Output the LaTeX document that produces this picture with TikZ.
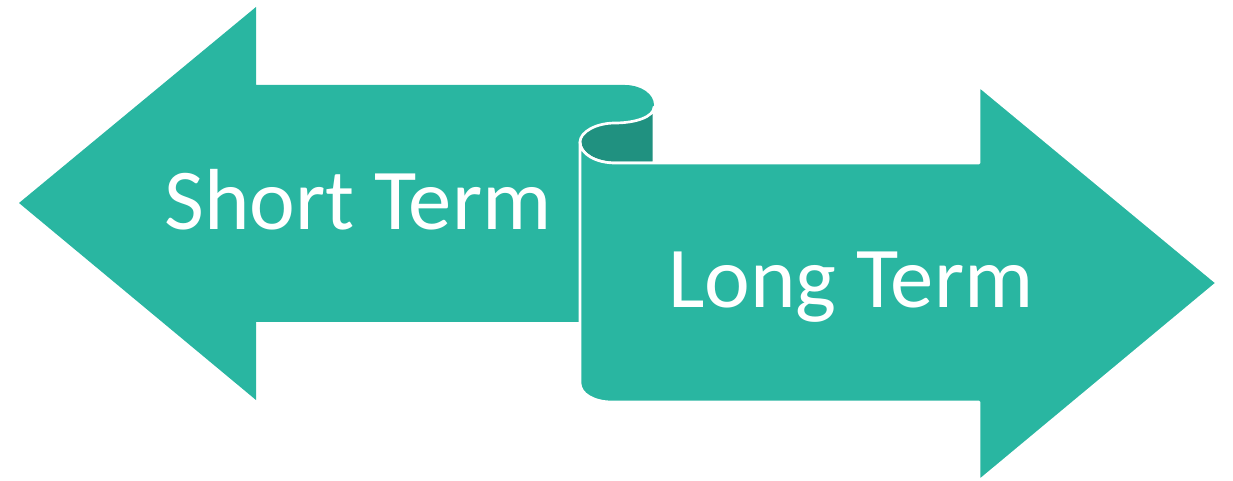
\documentclass[tikz,border=0pt]{standalone}
\usepackage{fontspec}
\setmainfont{Carlito}
\definecolor{scrollteal}{RGB}{41,182,161}
\definecolor{scrolldark}{RGB}{32,145,128}
\tikzset{every picture/.style={line width=0.75pt}}
\tikzset{
  arrowbody/.style={fill=scrollteal, draw=none},
  arrowedge/.style={fill=scrollteal, draw=white, line width=2pt, line join=round},
  curlinside/.style={fill=scrolldark, draw=white, line width=2pt, line join=round},
  termlabel/.style={anchor=base, inner sep=0.75pt, text=white, font=\fontsize{65}{70}\selectfont}
}
\begin{document}
\begin{tikzpicture}[x=0.75pt,y=0.75pt,yscale=-1,xscale=1]
\useasboundingbox (0,0) rectangle (1233,481);

%Shape: Left Arrow [id:short]
\draw [arrowbody] (19,203) -- (256,7) -- (256,85) -- (625,85) .. controls (641,85) and (654,94) .. (654,105) .. controls (654,117) and (635,123) .. (615,123) .. controls (596,123) and (580,132) .. (580,142) -- (580,322) -- (256,322) -- (256,400) -- cycle ;
%Shape: Curl [id:curl]
\draw [curlinside] (654,107) .. controls (654,117) and (635,123) .. (615,123) .. controls (596,123) and (580,132) .. (580,142) .. controls (580,154) and (596,163) .. (615,163) -- (654,163) -- cycle ;
%Shape: Right Arrow [id:long]
\draw [arrowedge] (580,142) .. controls (580,154) and (596,163) .. (615,163) -- (979,163) -- (979,86) -- (1217,283) -- (979,481) -- (979,402) -- (612,402) .. controls (594,402) and (580,394) .. (580,383) -- cycle ;

% Text Node
\draw (358,230) node [termlabel] (shortterm) {Short Term};
% Text Node
\draw (851,308) node [termlabel] (longterm) {Long Term};

\end{tikzpicture}
\end{document}
